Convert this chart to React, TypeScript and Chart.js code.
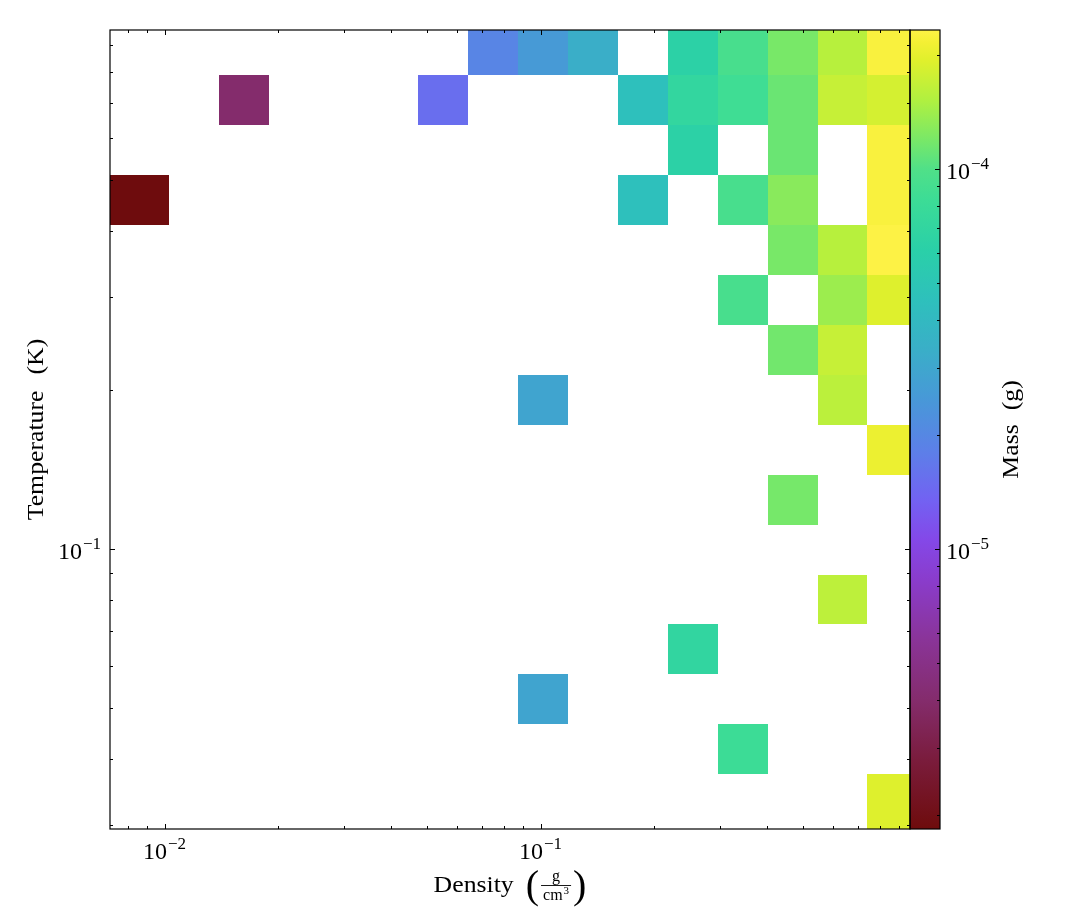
import React, { useEffect, useRef } from 'react';
import { Chart, registerables } from 'chart.js';

Chart.register(...registerables);

// ---------------- data ----------------
const densityRange = [0.00716, 0.961];
const temperatureRange = [0.0295, 0.9615];
const massRange = [1.833e-6, 2.321e-4];

// histogram bin edges (density: low -> high)
const densityEdges = [
  0.00716, 0.01028, 0.01396, 0.01896, 0.02575, 0.03498, 0.04722, 0.06415, 0.08715,
  0.1183, 0.1607, 0.2183, 0.2965, 0.4028, 0.547, 0.7384, 0.961,
];
// temperature: high -> low (rows listed top to bottom)
const temperatureEdges = [
  0.9615, 0.7902, 0.6353, 0.5108, 0.4108, 0.3303, 0.2655, 0.2135, 0.1717,
  0.1381, 0.111, 0.08927, 0.07211, 0.05798, 0.04662, 0.03749, 0.0295,
];

const _ = null;
// mass per bin (g), rows from hottest to coldest, columns by density bin
const massRows: (number | null)[][] = [
  [_, _, _, _, _, _, _, 1.94e-5, 2.54e-5, 3.34e-5, _, 6.3e-5, 9.3e-5, 1.19e-4, 1.57e-4, 2.25e-4],
  [_, _, 4.0e-6, _, _, _, 1.52e-5, _, _, _, 4.5e-5, 7.1e-5, 8.5e-5, 1.12e-4, 1.69e-4, 1.82e-4],
  [_, _, _, _, _, _, _, _, _, _, _, 6.3e-5, _, 1.12e-4, _, 2.25e-4],
  [1.85e-6, _, _, _, _, _, _, _, _, _, 4.5e-5, _, 9.3e-5, 1.28e-4, _, 2.25e-4],
  [_, _, _, _, _, _, _, _, _, _, _, _, _, 1.19e-4, 1.57e-4, 2.32e-4],
  [_, _, _, _, _, _, _, _, _, _, _, _, 9.3e-5, _, 1.39e-4, 1.91e-4],
  [_, _, _, _, _, _, _, _, _, _, _, _, _, 1.16e-4, 1.69e-4, _],
  [_, _, _, _, _, _, _, _, 2.92e-5, _, _, _, _, _, 1.6e-4, _],
  [_, _, _, _, _, _, _, _, _, _, _, _, _, _, _, 2.06e-4],
  [_, _, _, _, _, _, _, _, _, _, _, _, _, 1.18e-4, _, _],
  [_, _, _, _, _, _, _, _, _, _, _, _, _, _, _, _],
  [_, _, _, _, _, _, _, _, _, _, _, _, _, _, 1.62e-4, _],
  [_, _, _, _, _, _, _, _, _, _, _, 7.0e-5, _, _, _, _],
  [_, _, _, _, _, _, _, _, 2.92e-5, _, _, _, _, _, _, _],
  [_, _, _, _, _, _, _, _, _, _, _, _, 8.3e-5, _, _, _],
  [_, _, _, _, _, _, _, _, _, _, _, _, _, _, _, 1.91e-4],
];

const densityMajorTicks = [0.01, 0.1];
const temperatureMajorTicks = [0.1];
const massMajorTicks = [1e-5, 1e-4];

const xTitle = 'Density';
const xTitleNum = 'g';
const xTitleDen = 'cm';
const yTitle = ['Temperature', '(K)'];
const cTitle = ['Mass', '(g)'];

// ---------------- style ----------------
const FONT = '"Liberation Serif", "DejaVu Serif", serif';
const colormap: [number, string][] = [
  [0.0, '#6e0c0c'],
  [0.086, '#7a1c3c'],
  [0.161, '#842c6c'],
  [0.237, '#8a3498'],
  [0.312, '#8a3ccc'],
  [0.362, '#8448e8'],
  [0.412, '#7262f2'],
  [0.474, '#5c80e8'],
  [0.537, '#4898d8'],
  [0.599, '#3aaec8'],
  [0.662, '#2ec0bc'],
  [0.725, '#2ad0a8'],
  [0.787, '#3cdc96'],
  [0.826, '#50e088'],
  [0.862, '#78e868'],
  [0.912, '#b0f040'],
  [0.962, '#e0f02c'],
  [0.985, '#f4f034'],
  [1.0, '#fdf245'],
];

function hexToRgb(h: string) {
  const n = parseInt(h.slice(1), 16);
  return [(n >> 16) & 255, (n >> 8) & 255, n & 255];
}

function colorAt(t: number) {
  t = Math.max(0, Math.min(1, t));
  for (let i = 1; i < colormap.length; i++) {
    if (t <= colormap[i][0]) {
      const [t0, c0] = colormap[i - 1];
      const [t1, c1] = colormap[i];
      const f = (t - t0) / (t1 - t0 || 1);
      const a = hexToRgb(c0);
      const b = hexToRgb(c1);
      const r = a.map((v, k) => Math.round(v + (b[k] - v) * f));
      return `rgb(${r[0]},${r[1]},${r[2]})`;
    }
  }
  return colormap[colormap.length - 1][1];
}

function massColor(m: number) {
  const l0 = Math.log10(massRange[0]);
  const l1 = Math.log10(massRange[1]);
  return colorAt((Math.log10(m) - l0) / (l1 - l0));
}

function logTicks(min: number, max: number) {
  const out: { v: number; major: boolean }[] = [];
  for (let e = Math.floor(Math.log10(min)); e <= Math.ceil(Math.log10(max)); e++) {
    for (let m = 1; m <= 9; m++) {
      const v = m * Math.pow(10, e);
      if (v >= min * (1 - 1e-9) && v <= max * (1 + 1e-9)) out.push({ v, major: m === 1 });
    }
  }
  return out;
}

const TICK_PX = 24;
const SUP_PX = 17;
const LABEL_PX = 23;
const STRETCH = 1.12;

function powLabel(v: number) {
  return { base: '10', sup: '\u2212' + Math.round(Math.abs(Math.log10(v))) };
}

function drawPow(ctx: CanvasRenderingContext2D, v: number, x: number, baseline: number, align: string) {
  const { base, sup } = powLabel(v);
  ctx.font = `${TICK_PX}px ${FONT}`;
  const bw = ctx.measureText(base).width;
  ctx.font = `${SUP_PX}px ${FONT}`;
  const sw = ctx.measureText(sup).width;
  const w = bw + 1 + sw;
  const x0 = align === 'center' ? x - w / 2 : align === 'right' ? x - w : x;
  ctx.textAlign = 'left';
  ctx.textBaseline = 'alphabetic';
  ctx.font = `${TICK_PX}px ${FONT}`;
  ctx.fillText(base, x0, baseline);
  ctx.font = `${SUP_PX}px ${FONT}`;
  ctx.fillText(sup, x0 + bw + 1, baseline - 10);
}

function stretchedWidth(ctx: CanvasRenderingContext2D, s: string) {
  return ctx.measureText(s).width * STRETCH;
}

function drawStretched(ctx: CanvasRenderingContext2D, s: string, x: number, y: number) {
  ctx.save();
  ctx.translate(x, y);
  ctx.scale(STRETCH, 1);
  ctx.textAlign = 'left';
  ctx.fillText(s, 0, 0);
  ctx.restore();
}

// rotated two-part title centred at (cx, cy), reading bottom to top
function drawRotTitle(ctx: CanvasRenderingContext2D, parts: string[], gap: number, cx: number, cy: number) {
  ctx.save();
  ctx.font = `${LABEL_PX}px ${FONT}`;
  ctx.translate(cx, cy);
  ctx.rotate(-Math.PI / 2);
  ctx.textBaseline = 'middle';
  const w0 = stretchedWidth(ctx, parts[0]);
  const w1 = stretchedWidth(ctx, parts[1]);
  const total = w0 + gap + w1;
  drawStretched(ctx, parts[0], -total / 2, 0);
  drawStretched(ctx, parts[1], -total / 2 + w0 + gap, 0);
  ctx.restore();
}

const heatmapPlugin = {
  id: 'heatmap',
  beforeDatasetsDraw(chart: any) {
    const { ctx, chartArea: a, scales } = chart;
    const xs = scales.x;
    const ys = scales.y;
    ctx.save();
    ctx.beginPath();
    ctx.rect(a.left, a.top, a.right - a.left, a.bottom - a.top);
    ctx.clip();
    for (const d of chart.data.datasets[0].data) {
      const x0 = Math.round(xs.getPixelForValue(densityEdges[d.c]));
      const x1 = Math.round(xs.getPixelForValue(densityEdges[d.c + 1]));
      const y0 = Math.round(ys.getPixelForValue(temperatureEdges[d.r]));
      const y1 = Math.round(ys.getPixelForValue(temperatureEdges[d.r + 1]));
      ctx.fillStyle = massColor(d.m);
      ctx.fillRect(x0, y0, x1 - x0, y1 - y0);
    }
    ctx.restore();
  },
  afterDraw(chart: any) {
    const { ctx, chartArea: a, scales } = chart;
    const xs = scales.x;
    const ys = scales.y;
    const cs = scales.c;
    const cbL = a.right;
    const cbR = a.right + 30;

    ctx.save();
    // colorbar gradient
    const gTop = cs.getPixelForValue(massRange[1]);
    const gBot = cs.getPixelForValue(massRange[0]);
    const grad = ctx.createLinearGradient(0, gBot, 0, gTop);
    for (const [t, c] of colormap) grad.addColorStop(t, c);
    ctx.fillStyle = grad;
    ctx.fillRect(cbL, gTop, cbR - cbL, gBot - gTop);

    // ticks
    ctx.strokeStyle = '#000';
    ctx.lineWidth = 1;
    const px = (p: number) => Math.round(p) + 0.5;
    ctx.beginPath();
    for (const t of logTicks(densityRange[0], densityRange[1])) {
      const x = px(xs.getPixelForValue(t.v));
      const len = t.major ? 5 : 3;
      ctx.moveTo(x, a.bottom);
      ctx.lineTo(x, a.bottom - len);
      ctx.moveTo(x, a.top);
      ctx.lineTo(x, a.top + len);
    }
    for (const t of logTicks(temperatureRange[0], temperatureRange[1])) {
      const y = px(ys.getPixelForValue(t.v));
      const len = t.major ? 5 : 3;
      ctx.moveTo(a.left, y);
      ctx.lineTo(a.left + len, y);
      ctx.moveTo(a.right, y);
      ctx.lineTo(a.right - len, y);
    }
    for (const t of logTicks(massRange[0], massRange[1])) {
      const y = px(cs.getPixelForValue(t.v));
      const len = t.major ? 5 : 3;
      ctx.moveTo(cbR, y);
      ctx.lineTo(cbR - len, y);
    }
    ctx.stroke();

    // frames
    ctx.lineWidth = 1.2;
    ctx.strokeRect(a.left, a.top, a.right - a.left, a.bottom - a.top);
    ctx.strokeRect(cbL, gTop, cbR - cbL, gBot - gTop);

    // tick labels
    ctx.fillStyle = '#000';
    for (const v of densityMajorTicks) drawPow(ctx, v, xs.getPixelForValue(v), a.bottom + 30, 'center');
    for (const v of temperatureMajorTicks) drawPow(ctx, v, a.left - 9, ys.getPixelForValue(v) + 10, 'right');
    for (const v of massMajorTicks) drawPow(ctx, v, cbR + 6, cs.getPixelForValue(v) + 10, 'left');

    // axis titles
    drawRotTitle(ctx, yTitle, 16, 37, (a.top + a.bottom) / 2);
    drawRotTitle(ctx, cTitle, 14, 1012, (a.top + a.bottom) / 2);

    // x title: Density (g / cm^3)
    ctx.font = `${LABEL_PX}px ${FONT}`;
    ctx.textBaseline = 'alphabetic';
    const dW = stretchedWidth(ctx, xTitle);
    ctx.font = `40px ${FONT}`;
    const pW = ctx.measureText('(').width;
    ctx.font = `16px ${FONT}`;
    const numW = ctx.measureText(xTitleNum).width;
    const cmW = ctx.measureText(xTitleDen).width;
    ctx.font = `11px ${FONT}`;
    const supW = ctx.measureText('3').width;
    const denW = cmW + supW + 1;
    const fracW = Math.max(numW, denW) + 4;
    const gap = 12;
    const total = dW + gap + pW + 2 + fracW + 2 + pW;
    let x = (a.left + a.right) / 2 - total / 2;
    const base = 892;
    ctx.font = `${LABEL_PX}px ${FONT}`;
    drawStretched(ctx, xTitle, x, base);
    x += dW + gap;
    ctx.font = `40px ${FONT}`;
    ctx.textAlign = 'left';
    ctx.fillText('(', x, 898);
    x += pW + 2;
    const barY = 885.5;
    ctx.font = `16px ${FONT}`;
    ctx.fillText(xTitleNum, x + fracW / 2 - numW / 2, barY - 5);
    ctx.fillText(xTitleDen, x + fracW / 2 - denW / 2, barY + 14);
    ctx.font = `11px ${FONT}`;
    ctx.fillText('3', x + fracW / 2 - denW / 2 + cmW + 1, barY + 8);
    ctx.beginPath();
    ctx.lineWidth = 0.9;
    ctx.moveTo(x, barY);
    ctx.lineTo(x + fracW, barY);
    ctx.stroke();
    x += fracW + 2;
    ctx.font = `40px ${FONT}`;
    ctx.fillText(')', x, 898);
    ctx.restore();
  },
};

export default function App() {
  const ref = useRef<HTMLCanvasElement>(null);
  useEffect(() => {
    document.body.style.margin = '0';
    const cells: any[] = [];
    massRows.forEach((row, r) =>
      row.forEach((m, c) => {
        if (m != null) {
          cells.push({
            x: Math.sqrt(densityEdges[c] * densityEdges[c + 1]),
            y: Math.sqrt(temperatureEdges[r] * temperatureEdges[r + 1]),
            c,
            r,
            m,
          });
        }
      })
    );
    const chart = new Chart(ref.current as HTMLCanvasElement, {
      type: 'scatter',
      data: { datasets: [{ data: cells, pointRadius: 0, pointHoverRadius: 0 }] },
      options: {
        animation: false,
        responsive: false,
        events: [],
        layout: { padding: { left: 110, right: 165, top: 30, bottom: 91 } },
        plugins: { legend: { display: false }, tooltip: { enabled: false } },
        scales: {
          x: { type: 'logarithmic', min: densityRange[0], max: densityRange[1], display: false },
          y: { type: 'logarithmic', min: temperatureRange[0], max: temperatureRange[1], display: false },
          c: {
            type: 'logarithmic',
            axis: 'y',
            position: 'right',
            min: massRange[0],
            max: massRange[1],
            display: false,
          },
        },
      } as any,
      plugins: [heatmapPlugin],
    });
    return () => chart.destroy();
  }, []);
  return (
    <div style={{ position: 'absolute', left: 0, top: 0, width: 1075, height: 920, background: '#fff' }}>
      <canvas ref={ref} width={1075} height={920} style={{ display: 'block' }} />
    </div>
  );
}
